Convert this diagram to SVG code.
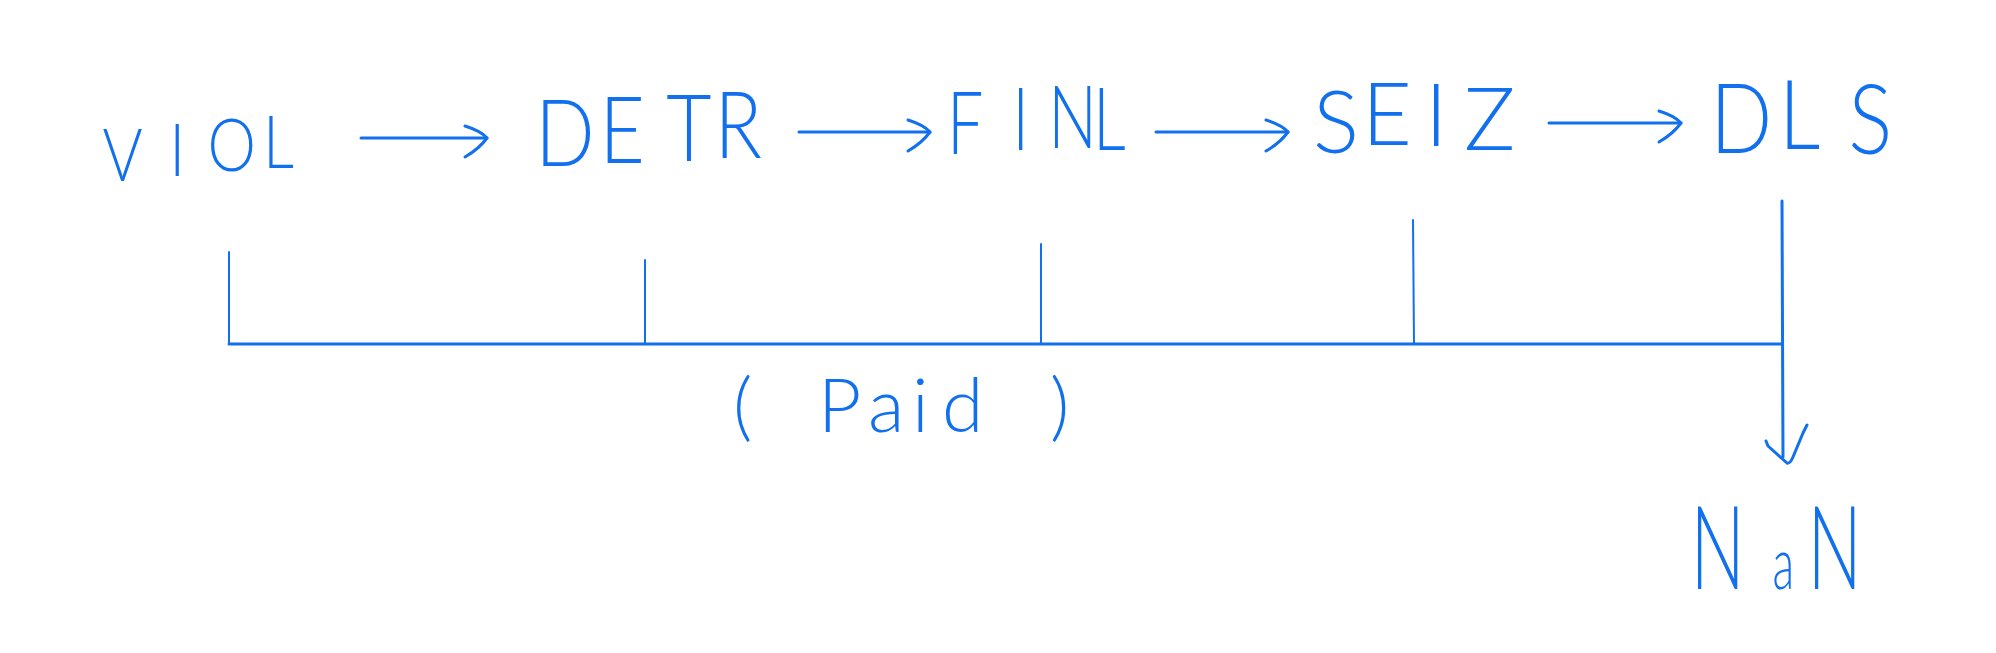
<svg xmlns="http://www.w3.org/2000/svg" width="1996" height="653" viewBox="0 0 1996 653">
<style>
.lbl{font-family:Lato,"Open Sans","DejaVu Sans",sans-serif;font-weight:300;fill:#1270ee}
.ln{fill:none;stroke:#1270ee;stroke-linecap:round;stroke-linejoin:round}
.arr{stroke-width:3}
.bus{stroke-width:3}
.tick{stroke-width:2}
</style>
<defs>
<marker id="head" markerUnits="userSpaceOnUse" markerWidth="40" markerHeight="50" refX="30" refY="20" orient="auto" overflow="visible">
<path d="M 8 8 Q 24 13 30 20 Q 22 31 8 39" fill="none" stroke="#1270ee" stroke-width="3" stroke-linecap="round" stroke-linejoin="round"/>
</marker>
</defs>
<rect width="1996" height="653" fill="#ffffff"/>
<g id="node-VIOL"><text class="lbl" font-size="72" transform="scale(0.85,1)" x="120.5 199 244.2 309.3" y="181 176 171 168">VIOL</text></g>
<g id="node-DETR"><text class="lbl" font-size="92" transform="scale(0.85,1)" x="629.6 705.3 783.7 840.6" y="166 163 161 158">DETR</text></g>
<g id="node-FINL"><text class="lbl" font-size="86" transform="scale(0.75,1)" x="1262.7 1349.7 1397.7 1457.3" y="154 150 148 150">FINL</text></g>
<g id="node-SEIZ"><text class="lbl" font-size="86" x="1313 1362 1425 1464" y="153 145 146 150">SEIZ</text></g>
<g id="node-DLS"><text class="lbl" font-size="96" transform="scale(0.85,1)" x="2012 2093 2174.6" y="153 149 154">DLS</text></g>
<g id="node-Paid"><text class="lbl" font-size="75" x="733 780 818 868 912 942 1000 1050" y="432 432 432 432 432 432 432 432">( Paid )</text></g>
<g id="node-NaN"><text class="lbl" font-size="116" transform="scale(0.62,1)" y="589"><tspan x="2726.5">N</tspan><tspan x="2859" font-size="72">a</tspan><tspan x="2915.2">N</tspan></text></g>
<g id="connectors">
<path class="ln arr" d="M 361 138 L 487 138" marker-end="url(#head)"/>
<path class="ln arr" d="M 799 132 L 930 132" marker-end="url(#head)"/>
<path class="ln arr" d="M 1156 132 L 1288 132" marker-end="url(#head)"/>
<path class="ln arr" d="M 1549 123 L 1681 123" marker-end="url(#head)"/>
<path class="ln bus" d="M 229 344 L 1782 344"/>
<path class="ln tick" d="M 229 252 L 229 344"/>
<path class="ln tick" d="M 645 260 L 645 344"/>
<path class="ln tick" d="M 1041 244 L 1041 344"/>
<path class="ln tick" d="M 1413 220 L 1414 344"/>
<path class="ln arr" d="M 1782 201 L 1783 457"/>
<path class="ln arr" d="M 1766 441 L 1768 446 L 1787 463 Q 1790 464 1793 457 L 1803 433 L 1807 425"/>
</g>
</svg>
